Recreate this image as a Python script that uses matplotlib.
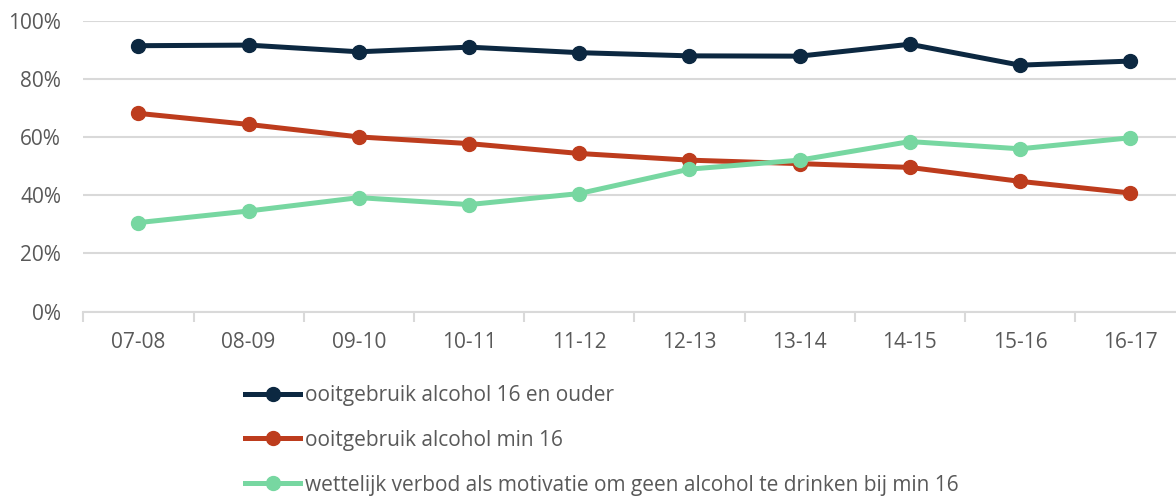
import matplotlib
matplotlib.use('Agg')
import matplotlib.pyplot as plt
import numpy as np

# ── data ──────────────────────────────────────────────────────────────────────
seasons = ['07-08', '08-09', '09-10', '10-11', '11-12',
           '12-13', '13-14', '14-15', '15-16', '16-17']
ooit_16_plus = [91.5, 91.7, 89.4, 91.0, 89.1, 88.0, 87.9, 92.0, 84.8, 86.2]
ooit_min_16 = [68.2, 64.4, 60.1, 57.8, 54.4, 52.1, 50.9, 49.6, 44.8, 40.8]
wettelijk_verbod = [30.6, 34.6, 39.2, 36.8, 40.6, 49.0, 52.1, 58.5, 56.0, 59.8]

labels = ['ooitgebruik alcohol 16 en ouder',
          'ooitgebruik alcohol min 16',
          'wettelijk verbod als motivatie om geen alcohol te drinken bij min 16']
colors = ['#0c2841', '#bd3c1d', '#77d7a1']

plt.rcParams['font.family'] = ['Open Sans', 'DejaVu Sans']

# ── figure ────────────────────────────────────────────────────────────────────
fig = plt.figure(figsize=(11.76, 4.97), dpi=100)
ax = fig.add_axes([83.3/1176, 1 - 311.5/497, 1102/1176, (311.5 - 21)/497])

x = np.arange(len(seasons))
for ys, lab, c in zip([ooit_16_plus, ooit_min_16, wettelijk_verbod], labels, colors):
    ax.plot(x, ys, color=c, lw=3.6, marker='o', ms=10, label=lab,
            solid_joinstyle='round', zorder=3, clip_on=False)

ax.set_xlim(-0.5, len(seasons) - 0.5)
ax.set_ylim(0, 100)
ax.set_yticks(np.arange(0, 101, 20))
ax.set_yticklabels([f'{v}%' for v in range(0, 101, 20)])
ax.set_xticks(x)
ax.set_xticklabels(seasons)
ax.set_xticks(np.arange(-0.5, len(seasons)), minor=True)

ax.grid(axis='y', color='#d9d9d9', lw=1.5, zorder=0)
for s in ['top', 'right', 'left']:
    ax.spines[s].set_visible(False)
ax.spines['bottom'].set_color('#d9d9d9')
ax.spines['bottom'].set_linewidth(1.5)

ax.tick_params(axis='y', length=0, labelsize=15, labelcolor='#595959', pad=16)
ax.tick_params(axis='x', which='major', length=0, labelsize=15,
               labelcolor='#595959', pad=15)
ax.tick_params(axis='x', which='minor', length=7, width=1.5, color='#d9d9d9')

fig.legend(loc='upper left', bbox_to_anchor=(245/1176, 1 - 385/497),
           frameon=False, fontsize=15, labelcolor='#595959', numpoints=1,
           handlelength=2.65, handletextpad=0.25, labelspacing=1.14,
           borderpad=0, borderaxespad=0)

fig.savefig('out.png', dpi=100)
